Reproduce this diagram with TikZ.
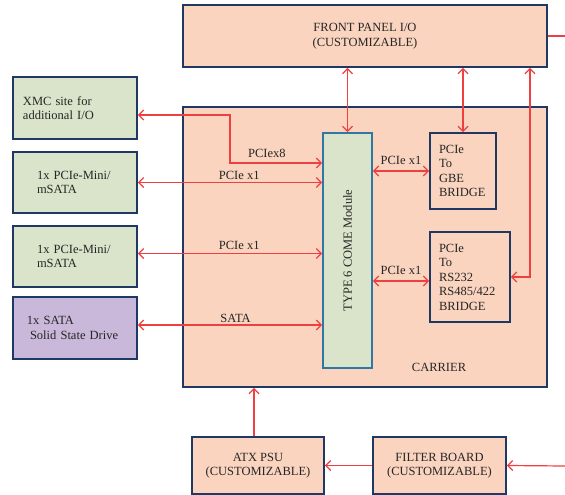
\documentclass[tikz,border=0pt]{standalone}
\usepackage{fontspec}
\setmainfont{Liberation Serif}
\usetikzlibrary{arrows.meta}
\definecolor{Peach}{HTML}{FAD4BF}
\definecolor{Sage}{HTML}{D9E4CA}
\definecolor{Lilac}{HTML}{C9B8D9}
\definecolor{Navy}{HTML}{1F3864}
\definecolor{Teal}{HTML}{2F78A6}
\definecolor{Wire}{HTML}{EE4040}
\definecolor{Ink}{HTML}{262626}

\begin{document}
\begin{tikzpicture}[x=1pt,y=-1pt,>={Straight Barb[length=5pt,width=10pt]},
        every node/.style={font=\fontsize{12.5}{14.5}\selectfont,text=Ink},
        box/.style={draw=Navy,line width=1.8pt,fill=Peach,inner sep=0pt,align=center},
        side/.style={box,fill=Sage,minimum width=124pt,align=left},
        link/.style={draw=Wire,line width=1.2pt},
        lab/.style={inner sep=1pt}]
        \useasboundingbox (0,0) rectangle (565,495);
        % outer boxes
        \node[box,minimum width=364pt,minimum height=62pt] (front) at (365,36)
          {FRONT PANEL I/O\\(CUSTOMIZABLE)};
        \node[box,minimum width=364pt,minimum height=280pt] (carrier) at (365,247) {};
        \node (carriertxt) at (439,367) {CARRIER};
        \node[side,minimum height=62pt,text width=104pt] (xmc) at (75,108)
          {XMC site for\\additional I/O};
        \node[side,minimum height=61pt,text width=76pt] (mini1) at (75,182.5)
          {1x PCIe-Mini/\\mSATA};
        \node[side,minimum height=61pt,text width=76pt] (mini2) at (75,256.5)
          {1x PCIe-Mini/\\mSATA};
        \node[side,fill=Lilac,minimum height=62pt,text width=96pt] (ssd) at (75,328)
          {1x SATA\\\hspace*{3pt}Solid State Drive};
        % inside the carrier
        \node[box,draw=Teal,fill=Sage,minimum width=49pt,minimum height=235pt] (come) at (347.5,250.5) {};
        \node[rotate=90] (cometxt) at (come.center) {TYPE 6 COME Module};
        \node[box,minimum width=66pt,minimum height=76pt,text width=48pt,align=left] (gbe) at (463,171)
          {PCIe\\To\\GBE\\BRIDGE};
        \node[box,minimum width=80pt,minimum height=90pt,text width=62pt,align=left] (rs) at (470,277)
          {PCIe\\To\\RS232\\RS485/422\\BRIDGE};
        % power
        \node[box,minimum width=132pt,minimum height=57pt] (atx) at (258,465.5)
          {ATX PSU\\(CUSTOMIZABLE)};
        \node[box,minimum width=133pt,minimum height=57pt] (filter) at (439.5,465.5)
          {FILTER BOARD\\(CUSTOMIZABLE)};
        \coordinate (x8) at (230,163);
        \coordinate (edge) at (565,466);
        % connectors
        \draw[link,<->] ([yshift=-7pt]xmc.east) -| (x8) -- (x8 -| come.west)
          node[lab,pos=0.4,above=4pt] {PCIex8};
        \draw[link,<->] (mini1.east) -- (mini1.east -| come.west)
          node[lab,pos=0.55,above=1pt] {PCIe x1};
        \draw[link,<->] ([yshift=3pt]mini2.east) -- ([yshift=3pt]mini2.east -| come.west)
          node[lab,pos=0.55,above=2pt] {PCIe x1};
        \draw[link,<->] ([yshift=3pt]ssd.east) -- ([yshift=3pt]ssd.east -| come.west)
          node[lab,pos=0.53,above=1pt] {SATA};
        \draw[link,<->] (gbe.west -| come.east) -- (gbe.west)
          node[lab,midway,above=5pt] {PCIe x1};
        \draw[link,<->] ([yshift=-4pt]rs.west -| come.east) -- ([yshift=-4pt]rs.west)
          node[lab,midway,above=5pt] {PCIe x1};
        \draw[link,<->] (front.south -| come.north) -- (come.north);
        \draw[link,<->] (front.south -| gbe.north) -- (gbe.north);
        \draw[link,<->] (rs.east) -| ([xshift=19pt]rs.east |- front.south);
        \draw[link] (front.east) -- (front.east -| edge);
        \draw[link,->] ([xshift=-4pt]atx.north) -- ([xshift=-4pt]atx.north |- carrier.south);
        \draw[link,->] (filter.west) -- (atx.east);
        \draw[link,->] (edge) -- (filter.east);
      \end{tikzpicture}
\end{document}
